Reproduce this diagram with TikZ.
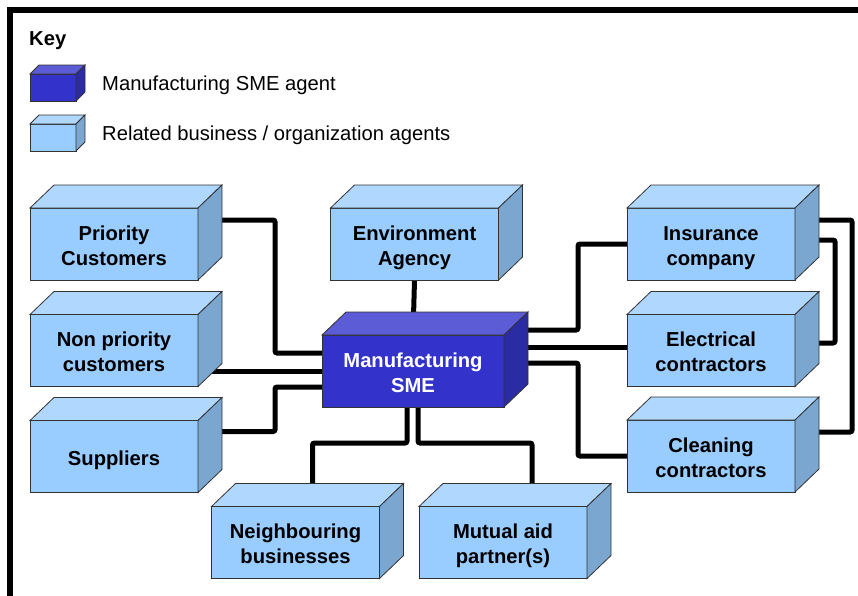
\documentclass[tikz,border=0pt]{standalone}
\usepackage{fontspec}
\setmainfont{Liberation Sans}
\usepackage{tikz}
\usepackage{xcolor}
\usetikzlibrary{backgrounds}

\definecolor{relfront}{HTML}{99CCFF}
\definecolor{reltop}{HTML}{B0D8FF}
\definecolor{relside}{HTML}{7BA6CF}
\definecolor{smefront}{HTML}{3333CC}
\definecolor{smetop}{HTML}{5C5CD6}
\definecolor{smeside}{HTML}{2B2BA3}
\definecolor{edgegray}{HTML}{333333}

\newcommand{\agentfont}{\bfseries\fontsize{20.2}{25}\selectfont}
\newcommand{\keyfont}{\fontsize{20.2}{24}\selectfont}
% fixed height and depth so every label sits alike in its box
\newcommand{\lbl}[1]{\rule{0pt}{22pt}#1\rule[-4.7pt]{0pt}{4.7pt}}

% top and side face of a box node: name, dx, dy, top colour, side colour
\newcommand{\boxfaces}[5]{%
    \draw [draw=edgegray,line width=0.8pt,fill=#4] (#1.north west) -- ++(#2,#3)
        -- ([shift={(#2,#3)}]#1.north east) -- (#1.north east) -- cycle;
    \draw [draw=edgegray,line width=0.8pt,fill=#5] (#1.north east) -- ++(#2,#3)
        -- ([shift={(#2,#3)}]#1.south east) -- (#1.south east) -- cycle;
}

\tikzset{
    agent/.style={draw=edgegray,line width=0.8pt,fill=relfront,minimum width=168pt,
        minimum height=72pt,inner sep=0pt,outer sep=0pt,align=center,font=\agentfont},
    smeagent/.style={agent,fill=smefront,minimum width=182pt,text=white},
    keybox/.style={draw=edgegray,line width=0.8pt,fill=relfront,minimum width=46pt,
        minimum height=27pt,inner sep=0pt,outer sep=0pt},
    link/.style={line width=5pt,rounded corners=2pt},
}

\begin{document}
\begin{tikzpicture}[x=1pt,y=-1pt]
        \useasboundingbox (0,0) rectangle (858,595);
        % Outer frame
        \draw [line width=6pt] (10,600) -- (10,10) -- (858,10);

        % Key
        \node [anchor=base west,font=\bfseries\fontsize{20.2}{24}\selectfont,inner sep=0pt] (keyhead) at (29,45) {Key};
        \node [keybox,fill=smefront] (keysme) at (53,87.5) {};
        \boxfaces{keysme}{9}{-9}{smetop}{smeside}
        \node [keybox] (keyrel) at (53,137.5) {};
        \boxfaces{keyrel}{9}{-9}{reltop}{relside}
        \node [anchor=base west,font=\keyfont,inner sep=0pt] (keysmetext) at (102,90.5) {Manufacturing SME agent};
        \node [anchor=base west,font=\keyfont,inner sep=0pt] (keyreltext) at (102,140.5) {Related business / organization agents};

        % Central agent
        \node [smeagent] (sme) at (413,371) {\lbl{Manufacturing\\SME}};
        \boxfaces{sme}{24}{-23}{smetop}{smeside}

        % Left column
        \node [agent] (prio) at (114,244) {\lbl{Priority\\Customers}};
        \boxfaces{prio}{24}{-23}{reltop}{relside}
        \node [agent] (nonprio) at (114,350.5) {\lbl{Non priority\\customers}};
        \boxfaces{nonprio}{24}{-23}{reltop}{relside}
        \node [agent] (supp) at (114,456.5) {\lbl{Suppliers}};
        \boxfaces{supp}{24}{-23}{reltop}{relside}

        % Top
        \node [agent] (env) at (414.5,244) {\lbl{Environment\\Agency}};
        \boxfaces{env}{24}{-23}{reltop}{relside}

        % Bottom row
        \node [agent] (neigh) at (295.5,542.5) {\lbl{Neighbouring\\businesses}};
        \boxfaces{neigh}{24}{-23}{reltop}{relside}
        \node [agent] (mutual) at (503,542.5) {\lbl{Mutual aid\\partner(s)}};
        \boxfaces{mutual}{24}{-23}{reltop}{relside}

        % Right column
        \node [agent] (ins) at (711,244) {\lbl{Insurance\\company}};
        \boxfaces{ins}{24}{-23}{reltop}{relside}
        \node [agent] (elec) at (711,350.5) {\lbl{Electrical\\contractors}};
        \boxfaces{elec}{24}{-23}{reltop}{relside}
        \node [agent] (clean) at (711,456) {\lbl{Cleaning\\contractors}};
        \boxfaces{clean}{24}{-23}{reltop}{relside}

        % Links (behind the boxes)
        \begin{scope}[on background layer]
            \draw [link] ([yshift=24pt]prio.east) -- ++(77,0) |- ([yshift=18pt]sme.west);
            \draw [link] (sme.west) -- (sme.west -| nonprio.east);
            \draw [link] ([yshift=25pt]supp.east) -- ++(77,0) |- ([yshift=-16pt]sme.west);
            \draw [link] (env.south) -- (sme.north);
            \draw [link] ([xshift=-6pt]sme.south) -- ++(0,36) -| ([xshift=17pt]neigh.north);
            \draw [link] ([xshift=5pt]sme.south) -- ++(0,36) -| ([xshift=29pt]mutual.north);
            \draw [link] ([yshift=41pt]sme.east) -- ++(74,0) |- (ins.west);
            \draw [link] ([yshift=24pt]sme.east) -- ([yshift=3.5pt]elec.west);
            \draw [link] ([yshift=8pt]sme.east) -- ++(74,0) |- (clean.west);
            \draw [link] ([yshift=4pt]ins.east) -- ++(40,0) |- ([yshift=7.5pt]elec.east);
            \draw [link] ([yshift=24pt]ins.east) -- ++(57,0) |- ([yshift=24pt]clean.east);
        \end{scope}
    \end{tikzpicture}
\end{document}
